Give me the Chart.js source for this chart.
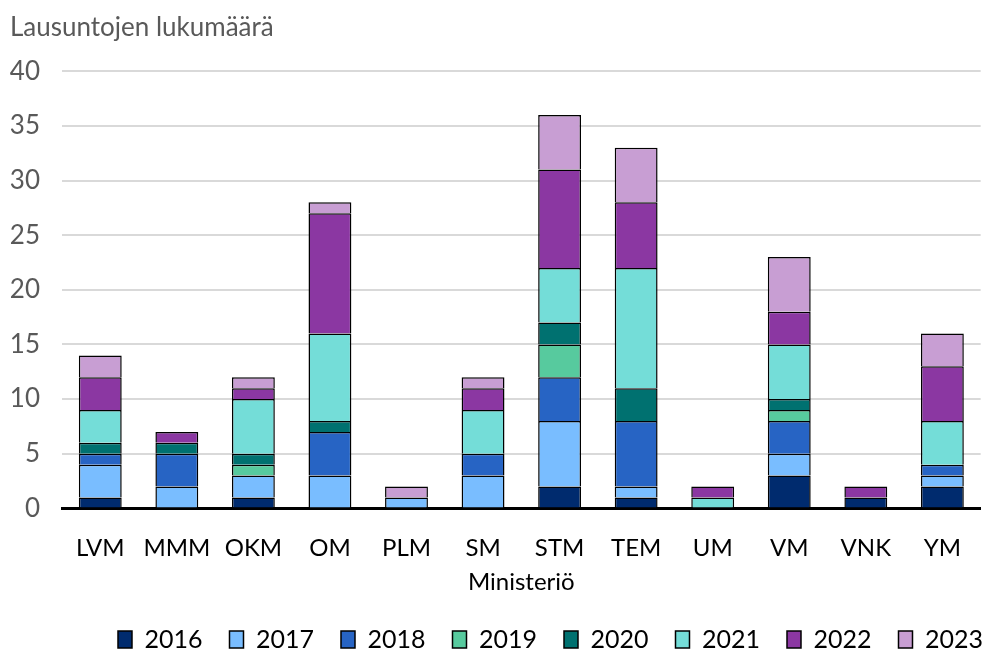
<!DOCTYPE html>
<html>
<head>
<meta charset="utf-8">
<script src="https://cdn.jsdelivr.net/npm/chart.js@4"></script>
<style>
  body { margin: 0; background: #fff; }
  #wrap { width: 986px; height: 653px; }
</style>
</head>
<body>
<div id="wrap"><canvas id="myChart"></canvas></div>
<script>
const ministries = ['LVM', 'MMM', 'OKM', 'OM', 'PLM', 'SM', 'STM', 'TEM', 'UM', 'VM', 'VNK', 'YM'];
const years = ['2016', '2017', '2018', '2019', '2020', '2021', '2022', '2023'];
const v2016 = [1, 0, 1, 0, 0, 0, 2, 1, 0, 3, 1, 2];
const v2017 = [3, 2, 2, 3, 1, 3, 6, 1, 0, 2, 0, 1];
const v2018 = [1, 3, 0, 4, 0, 2, 4, 6, 0, 3, 0, 1];
const v2019 = [0, 0, 1, 0, 0, 0, 3, 0, 0, 1, 0, 0];
const v2020 = [1, 1, 1, 1, 0, 0, 2, 3, 0, 1, 0, 0];
const v2021 = [3, 0, 5, 8, 0, 4, 5, 11, 1, 5, 0, 4];
const v2022 = [3, 1, 1, 11, 0, 2, 9, 6, 1, 3, 1, 5];
const v2023 = [2, 0, 1, 1, 1, 1, 5, 5, 0, 5, 0, 3];
const yTicks = [0, 5, 10, 15, 20, 25, 30, 35, 40];

const seriesValues = [v2016, v2017, v2018, v2019, v2020, v2021, v2022, v2023];
const colors = ['#002b6e', '#79bdff', '#2764c4', '#57ca9e', '#007170', '#74ddd8', '#8b37a2', '#c89ed3'];

const fontFam = 'Lato, "Liberation Sans", sans-serif';

const datasets = years.map(function (y, i) {
  return {
    label: y,
    data: seriesValues[i],
    backgroundColor: colors[i],
    borderColor: '#000000',
    borderWidth: 1.5,
    barPercentage: 0.56,
    categoryPercentage: 1
  };
});

// nudge the legend to the right edge like in the original
const legendShift = {
  id: 'legendShift',
  afterLayout: function (chart) {
    chart.legend.left += 24;
    chart.legend.right += 24;
  }
};

var mychart = new Chart('myChart', {
  type: 'bar',
  data: { labels: ministries, datasets: datasets },
  plugins: [legendShift],
  options: {
    responsive: true,
    maintainAspectRatio: false,
    animation: false,
    layout: { padding: { left: 10, right: 0, top: 0, bottom: -9 } },
    plugins: {
      tooltip: { enabled: false },
      title: {
        display: true,
        text: 'Lausuntojen lukumäärä',
        align: 'start',
        color: '#595959',
        font: { family: fontFam, size: 26, weight: 'normal' },
        padding: { top: 12, bottom: 28 }
      },
      legend: {
        position: 'bottom',
        align: 'end',
        labels: {
          color: '#000000',
          font: { family: fontFam, size: 25 },
          boxWidth: 14,
          boxHeight: 17,
          padding: 27
        }
      }
    },
    scales: {
      x: {
        stacked: true,
        grid: { display: false, drawTicks: false },
        border: { display: true, color: '#000000', width: 3 },
        ticks: {
          color: '#000000',
          font: { family: fontFam, size: 24 },
          padding: 25,
          maxRotation: 0,
          minRotation: 0,
          autoSkip: false
        },
        title: {
          display: true,
          text: 'Ministeriö',
          color: '#000000',
          font: { family: fontFam, size: 24 },
          padding: { top: -19, bottom: 3 }
        }
      },
      y: {
        stacked: true,
        min: 0,
        max: 40,
        afterBuildTicks: function (axis) {
          axis.ticks = yTicks.map(function (t) { return { value: t }; });
        },
        afterFit: function (axis) {
          axis.width = 52;
        },
        grid: { color: '#d9d9d9', lineWidth: 2, drawTicks: false },
        border: { display: false },
        ticks: { color: '#595959', font: { family: fontFam, size: 26 }, padding: 22 }
      }
    }
  }
});
</script>
</body>
</html>
